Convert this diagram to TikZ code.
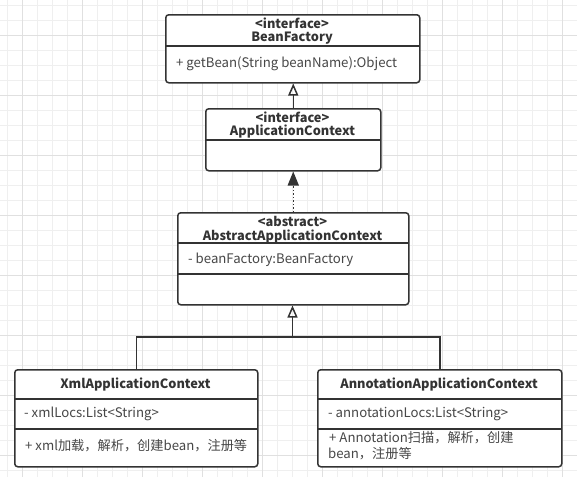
\documentclass[tikz,border=0pt]{standalone}
\usepackage{fontspec}
\setmainfont{Noto Sans CJK SC}
\usetikzlibrary{arrows.meta}
\definecolor{ink}{HTML}{333333}
\definecolor{gridminor}{HTML}{EFEFEF}
\definecolor{gridmajor}{HTML}{E0E0E0}
\begin{document}
\begin{tikzpicture}[x=1pt,y=-1pt,
  classbox/.style={draw=ink, line width=1.5pt, rounded corners=3pt, fill=white, inner sep=0pt, anchor=north west},
  sepline/.style={draw=ink, line width=1.5pt},
  conn/.style={draw=ink, line width=1.5pt},
  title/.style={font=\fontsize{12.8}{14}\selectfont\bfseries, text=ink, inner sep=0pt},
  member/.style={font=\fontsize{13.2}{15}\selectfont, text=ink!90, inner sep=0pt, anchor=west},
  hollow/.style={-{Triangle[open, length=12pt, width=10pt, line width=1.5pt]}},
  filled/.style={-{Triangle[length=14pt, width=11pt]}}
]
\useasboundingbox (0,0) rectangle (577,477);
\fill[white] (0,0) rectangle (577,477);
% grid
\foreach \i in {0,...,38} {
  \pgfmathsetmacro{\gx}{7+15*\i}
  \draw[gridminor, line width=0.8pt] (\gx,0) -- (\gx,477);
}
\foreach \i in {0,...,31} {
  \pgfmathsetmacro{\gy}{5+15*\i}
  \draw[gridminor, line width=0.8pt] (0,\gy) -- (577,\gy);
}
\foreach \i in {0,...,9} {
  \pgfmathsetmacro{\gx}{22+60*\i}
  \draw[gridmajor, line width=0.8pt] (\gx,0) -- (\gx,477);
}
\foreach \i in {0,...,7} {
  \pgfmathsetmacro{\gy}{35+60*\i}
  \draw[gridmajor, line width=0.8pt] (0,\gy) -- (577,\gy);
}

% BeanFactory
\node[classbox, minimum width=254pt, minimum height=68pt] (bf) at (165,14) {};
\draw[sepline] (165,46) -- (419,46);
\node[title] (bfs) at (292,23) {<interface>};
\node[title] (bft) at (292,38) {BeanFactory};
\node[member] (bfm) at (176,64) {+ getBean(String beanName):Object};

% ApplicationContext
\node[classbox, minimum width=175pt, minimum height=62pt] (ac) at (205,108) {};
\draw[sepline] (205,140) -- (380,140);
\node[title] (acs) at (292.5,117) {<interface>};
\node[title] (act) at (292.5,132) {ApplicationContext};

% AbstractApplicationContext
\node[classbox, minimum width=231pt, minimum height=92pt] (aac) at (177,212) {};
\draw[sepline] (177,243) -- (408,243);
\draw[sepline] (177,274) -- (408,274);
\node[title] (aacs) at (292.5,221) {<abstract>};
\node[title] (aact) at (292.5,236) {AbstractApplicationContext};
\node[member] (aacm) at (188,260) {- beanFactory:BeanFactory};

% XmlApplicationContext
\node[classbox, minimum width=243pt, minimum height=97pt] (xml) at (14,369) {};
\draw[sepline] (14,399) -- (257,399);
\draw[sepline] (14,429) -- (257,429);
\node[title] (xmlt) at (135.5,384) {XmlApplicationContext};
\node[member] (xmla) at (24,414) {- xmlLocs:List<String>};
\node[member] (xmlo) at (25,446) {+ xml加载，解析，创建bean，注册等};

% AnnotationApplicationContext
\node[classbox, minimum width=244pt, minimum height=97pt] (ann) at (317,369) {};
\draw[sepline] (317,399) -- (561,399);
\draw[sepline] (317,429) -- (561,429);
\node[title] (annt) at (439,384) {AnnotationApplicationContext};
\node[member] (anna) at (328,414) {- annotationLocs:List<String>};
\node[member] (anno1) at (329,438) {+ Annotation扫描，解析，创建};
\node[member] (anno2) at (328,454) {bean，注册等};

% connectors
\coordinate (j) at (292.5,337);
\draw[conn, hollow] (ac.north) -- (ac.north |- bf.south);
\draw[conn, dotted, filled] (aac.north) -- (aac.north |- ac.south);
\draw[conn, hollow] (j) -- (j |- aac.south);
\draw[conn] (xml.north) |- (j) -| (ann.north);
\end{tikzpicture}
\end{document}
